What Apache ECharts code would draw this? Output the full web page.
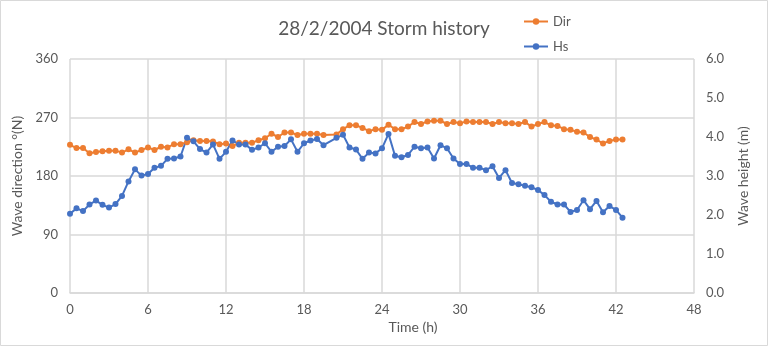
<!DOCTYPE html>
<html>
<head>
<meta charset="utf-8">
<script src="https://cdn.jsdelivr.net/npm/echarts@6/dist/echarts.min.js"></script>
<style>
html,body{margin:0;padding:0;background:#fff;}
#c{width:768px;height:346px;}
</style>
</head>
<body>
<div id="c"></div>
<script>
const hours = [0,0.5,1,1.5,2,2.5,3,3.5,4,4.5,5,5.5,6,6.5,7,7.5,8,8.5,9,9.5,10,10.5,11,11.5,12,12.5,13,13.5,14,14.5,15,15.5,16,16.5,17,17.5,18,18.5,19,19.5,20.5,21,21.5,22,22.5,23,23.5,24,24.5,25,25.5,26,26.5,27,27.5,28,28.5,29,29.5,30,30.5,31,31.5,32,32.5,33,33.5,34,34.5,35,35.5,36,36.5,37,37.5,38,38.5,39,39.5,40,40.5,41,41.5,42,42.5];
const dirValues = [228,223,223,215,217,218,219,219,216,221,216,220,224,220,225,224,229,229,232,235,234,234,233,229,230,226,231,231,231,235,238,245,240,247,247,243,245,245,245,243,244,252,258,258,254,249,252,251,259,252,252,256,263,260,264,265,265,260,263,261,264,263,263,263,260,263,261,261,260,263,256,260,263,258,257,252,251,248,247,240,236,230,234,236,236];
const hsValues = [2.03,2.17,2.10,2.27,2.37,2.26,2.19,2.28,2.49,2.86,3.17,3.01,3.05,3.21,3.26,3.44,3.45,3.50,3.98,3.89,3.69,3.60,3.81,3.44,3.62,3.91,3.81,3.81,3.67,3.73,3.84,3.62,3.75,3.77,3.94,3.62,3.84,3.91,3.95,3.79,3.98,4.06,3.73,3.68,3.44,3.60,3.58,3.71,4.08,3.52,3.48,3.54,3.75,3.71,3.73,3.45,3.79,3.71,3.45,3.31,3.31,3.21,3.21,3.15,3.25,2.95,3.15,2.82,2.79,2.75,2.71,2.64,2.51,2.34,2.27,2.27,2.08,2.13,2.38,2.15,2.36,2.07,2.23,2.13,1.93];
const xTicks = {min:0, max:48, interval:6};
const dirTicks = {min:0, max:360, interval:90};
const hsTicks = {min:0, max:6, interval:1};

const FONT = 'Lato';
const TXT = '#595959';
const GRID = '#d9d9d9';
const chart = echarts.init(document.getElementById('c'), null, {renderer:'canvas'});
chart.setOption({
  animation:false,
  backgroundColor:'#fff',
  textStyle:{fontFamily:FONT},
  title:{text:'28/2/2004 Storm history', left:'center', top:14,
    textStyle:{fontFamily:FONT, fontSize:19, fontWeight:'normal', color:TXT}},
  legend:{orient:'vertical', left:518, top:10, itemGap:12, itemWidth:24, itemHeight:8,
    textStyle:{fontFamily:FONT, fontSize:13, color:TXT},
    data:['Dir','Hs']},
  graphic:[{type:'rect', shape:{x:0.5,y:0.5,width:767,height:345}, style:{fill:null, stroke:GRID, lineWidth:1}, silent:true}],
  grid:{left:70, right:74, top:59, bottom:53, containLabel:false},
  xAxis:{type:'value', min:xTicks.min, max:xTicks.max, interval:xTicks.interval,
    name:'Time (h)', nameLocation:'middle', nameGap:18,
    nameTextStyle:{fontFamily:FONT, fontSize:14, color:TXT, padding:[0,0,0,62]},
    axisLine:{show:true, lineStyle:{color:GRID, width:1.5}},
    axisTick:{show:false},
    axisLabel:{fontFamily:FONT, fontSize:13, color:TXT, margin:10},
    splitLine:{show:true, lineStyle:{color:GRID, width:1.5}}},
  yAxis:[
    {type:'value', min:dirTicks.min, max:dirTicks.max, interval:dirTicks.interval,
      name:'Wave direction °(N)', nameLocation:'middle', nameGap:42, nameRotate:90,
      nameTextStyle:{fontFamily:FONT, fontSize:14, color:TXT},
      axisLine:{show:false}, axisTick:{show:false},
      axisLabel:{fontFamily:FONT, fontSize:13, color:TXT, margin:12},
      splitLine:{show:true, lineStyle:{color:GRID, width:1.5}}},
    {type:'value', min:hsTicks.min, max:hsTicks.max, interval:hsTicks.interval, position:'right',
      name:'Wave height (m)', nameLocation:'middle', nameGap:42, nameRotate:90,
      nameTextStyle:{fontFamily:FONT, fontSize:14, color:TXT},
      axisLine:{show:false}, axisTick:{show:false},
      axisLabel:{fontFamily:FONT, fontSize:13, color:TXT, margin:12, formatter:v=>v.toFixed(1)},
      splitLine:{show:false}}
  ],
  series:[
    {name:'Dir', type:'line', yAxisIndex:0, data:hours.map((t,i)=>[t,dirValues[i]]),
      symbol:'circle', symbolSize:6, itemStyle:{color:'#ED7D31'},
      lineStyle:{color:'#ED7D31', width:2}},
    {name:'Hs', type:'line', yAxisIndex:1, data:hours.map((t,i)=>[t,hsValues[i]]),
      symbol:'circle', symbolSize:6, itemStyle:{color:'#4472C4'},
      lineStyle:{color:'#4472C4', width:2}}
  ]
});
</script>
</body>
</html>
